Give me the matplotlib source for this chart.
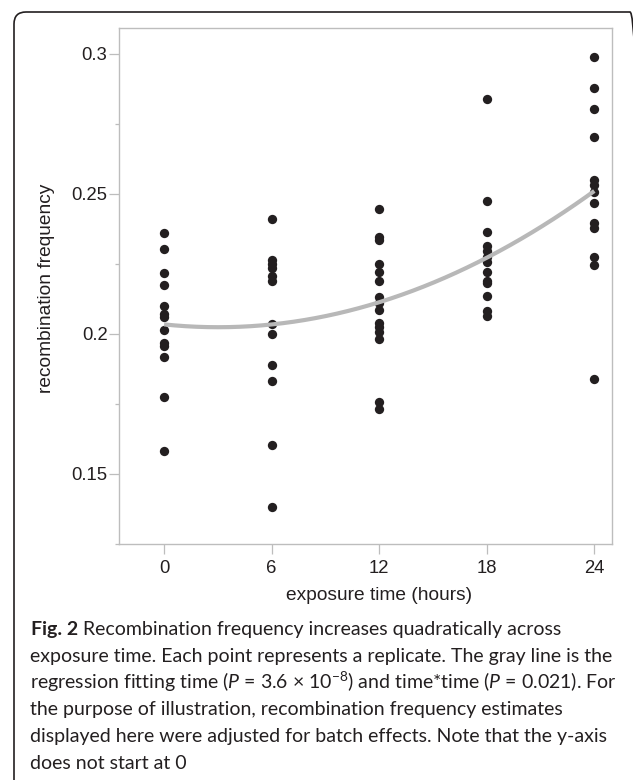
import numpy as np
import matplotlib.pyplot as plt
from matplotlib.patches import FancyBboxPatch
from matplotlib.transforms import IdentityTransform

plt.rcParams['font.family'] = 'Liberation Sans'
plt.rcParams['mathtext.fontset'] = 'custom'
plt.rcParams['mathtext.rm'] = 'Lato'
plt.rcParams['mathtext.it'] = 'Lato:italic'
plt.rcParams['mathtext.bf'] = 'Lato:bold'

# recombination frequency per replicate
hours = [0, 6, 12, 18, 24]
freq_0h = [0.2361, 0.2303, 0.2216, 0.2174, 0.2100, 0.2072, 0.2060, 0.2013,
           0.1966, 0.1955, 0.1916, 0.1775, 0.1582]
freq_6h = [0.2410, 0.2265, 0.2250, 0.2235, 0.2205, 0.2190, 0.2035, 0.2000,
           0.1890, 0.1830, 0.1602, 0.1380]
freq_12h = [0.2445, 0.2345, 0.2335, 0.2250, 0.2220, 0.2190, 0.2130, 0.2110,
            0.2085, 0.2040, 0.2025, 0.2005, 0.1980, 0.1757, 0.1730]
freq_18h = [0.2840, 0.2475, 0.2365, 0.2315, 0.2295, 0.2275, 0.2255, 0.2220,
            0.2190, 0.2180, 0.2135, 0.2080, 0.2065]
freq_24h = [0.2990, 0.2877, 0.2802, 0.2704, 0.2548, 0.2532, 0.2505, 0.2468,
            0.2395, 0.2376, 0.2275, 0.2245, 0.1838]
all_freq = [freq_0h, freq_6h, freq_12h, freq_18h, freq_24h]

yticks = [0.15, 0.2, 0.25, 0.3]
yticklabels = ['0.15', '0.2', '0.25', '0.3']
yminor = [0.125, 0.175, 0.225, 0.275]

fig_label = 'Fig. 2'
caption = [
    'Recombination frequency increases quadratically across',
    'exposure time. Each point represents a replicate. The gray line is the',
    r'regression fitting time ($P$ = 3.6 × $10^{-8}$) and time*time ($P$ = 0.021). For',
    'the purpose of illustration, recombination frequency estimates',
    'displayed here were adjusted for batch effects. Note that the y-axis',
    'does not start at 0',
]

fig = plt.figure(figsize=(6.33, 7.8), dpi=100)
W, H = 633, 780

# rounded frame around figure + caption
frame = FancyBboxPatch((14, -20), 628, H - 12 + 20, boxstyle='round,pad=0,rounding_size=12',
                       transform=IdentityTransform(), facecolor='none',
                       edgecolor='#231f20', linewidth=1.2)
fig.patches.append(frame)

ax = fig.add_axes([119.3 / W, 1 - 543.7 / H, (611.7 - 119.3) / W, (543.7 - 28.3) / H])

t_all = []
y_all = []
for h, vals in zip(hours, all_freq):
    ax.scatter(np.full(len(vals), h), vals, s=45, color='#231f20', linewidths=0, zorder=2)
    t_all += [h] * len(vals)
    y_all += vals

# quadratic regression (time + time*time)
coef = np.polyfit(t_all, y_all, 2)
tt = np.linspace(0, 24, 200)
ax.plot(tt, np.polyval(coef, tt), color='#b8b8b8', lw=3, solid_capstyle='butt', zorder=3)

ax.set_xlim(-2.5, 24.97)
ax.set_ylim(0.125, 0.3091)
ax.set_xticks(hours)
ax.set_yticks(yticks)
ax.set_yticklabels(yticklabels)
ax.set_yticks(yminor, minor=True)

for s in ax.spines.values():
    s.set_color('#bdbdbd')
    s.set_linewidth(1)
ax.tick_params(axis='both', which='major', direction='out', length=7, width=0.9,
               color='#bdbdbd', labelsize=13.3, labelcolor='#231f20')
ax.tick_params(axis='y', which='minor', direction='out', length=3.2, width=0.9, color='#bdbdbd')
ax.tick_params(axis='y', pad=1.5)
ax.tick_params(axis='x', pad=5)

fig.text(47 / W, 1 - 288.5 / H, 'recombination frequency', rotation=90,
         ha='center', va='center', fontsize=13.8, color='#231f20')
fig.text(379 / W, 1 - 595 / H, 'exposure time (hours)', ha='center', va='center',
         fontsize=13.8, color='#231f20')

cap_size = 14
base = 635
step = 26.8
renderer = fig.canvas.get_renderer()
lab = fig.text(31 / W, 1 - base / H, fig_label, ha='left', va='baseline',
               family='Lato', weight='bold', fontsize=cap_size, color='#231f20')
x_after = lab.get_window_extent(renderer).x1 + 4.5
for i, line in enumerate(caption):
    x0 = x_after if i == 0 else 30
    fig.text(x0 / W, 1 - (base + i * step) / H, line, ha='left', va='baseline',
             family='Lato', fontsize=cap_size, color='#231f20')

fig.savefig('out.png', dpi=100)
